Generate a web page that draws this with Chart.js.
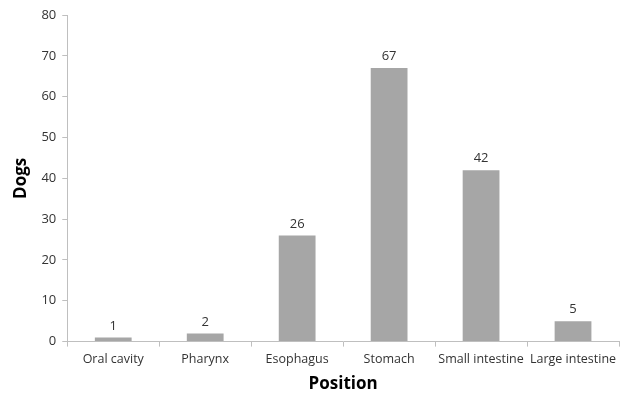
<!DOCTYPE html>
<html>
<head>
<meta charset="utf-8">
<script src="https://cdn.jsdelivr.net/npm/chart.js@4/dist/chart.umd.min.js"></script>
<style>
  html, body { margin: 0; padding: 0; background: #fff; }
  #wrap { width: 628px; height: 394px; }
</style>
</head>
<body>
<div id="wrap"><canvas id="chart" width="628" height="394"></canvas></div>
<script>
// ── Data ─────────────────────────────────────────────
const categories = ["Oral cavity", "Pharynx", "Esophagus", "Stomach", "Small intestine", "Large intestine"];
const dogs       = [1, 2, 26, 67, 42, 5];
const yTicks     = [0, 10, 20, 30, 40, 50, 60, 70, 80];

const FONT = "'Open Sans', 'Noto Sans', sans-serif";
const TEXT = "#333333";
const AXIS = "#bfbfbf";

// value labels above each bar
const barLabels = {
    id: "barLabels",
    afterDatasetsDraw(chart) {
        const ctx = chart.ctx;
        const meta = chart.getDatasetMeta(0);
        ctx.save();
        ctx.font = "13px " + FONT;
        ctx.fillStyle = TEXT;
        ctx.textAlign = "center";
        ctx.textBaseline = "bottom";
        meta.data.forEach((bar, i) => {
            ctx.fillText(String(dogs[i]), bar.x, bar.y - 5);
        });
        ctx.restore();
    }
};

new Chart(document.getElementById("chart"), {
    type: "bar",
    data: {
        labels: categories,
        datasets: [{
            data: dogs,
            backgroundColor: "#a6a6a6",
            borderWidth: 0,
            barPercentage: 0.4,
            categoryPercentage: 1.0
        }]
    },
    options: {
        responsive: false,
        animation: false,
        layout: { padding: { top: 15, right: 9, left: 11, bottom: 0 } },
        plugins: {
            legend: { display: false },
            tooltip: { enabled: false }
        },
        scales: {
            x: {
                grid: {
                    display: true,
                    drawOnChartArea: false,
                    offset: true,
                    color: AXIS,
                    tickLength: 5
                },
                border: { color: AXIS },
                ticks: {
                    color: TEXT,
                    font: { family: FONT, size: 12.5 },
                    padding: 5,
                    maxRotation: 0,
                    autoSkip: false
                },
                title: {
                    display: true,
                    text: "Position",
                    color: "#000",
                    font: { family: FONT, size: 17, weight: "bold" },
                    padding: { top: 2, bottom: 0 }
                }
            },
            y: {
                min: 0,
                max: 80,
                afterBuildTicks: (axis) => { axis.ticks = yTicks.map(v => ({ value: v })); },
                grid: {
                    display: true,
                    drawOnChartArea: false,
                    color: AXIS,
                    tickLength: 5
                },
                border: { color: AXIS },
                ticks: { color: TEXT, font: { family: FONT, size: 13 }, padding: 6 },
                title: {
                    display: true,
                    text: "Dogs",
                    color: "#000",
                    font: { family: FONT, size: 17, weight: "bold" },
                    padding: { top: 0, bottom: 4 }
                }
            }
        }
    },
    plugins: [barLabels]
});
</script>
</body>
</html>
